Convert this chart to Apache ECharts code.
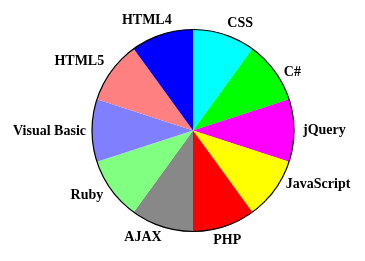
<!DOCTYPE html>
<html><head><meta charset="utf-8">
<script src="https://cdn.jsdelivr.net/npm/echarts@6/dist/echarts.min.js"></script>
<style>html,body{margin:0;padding:0;background:#fff}#c{width:365px;height:261px}</style>
</head><body><div id="c"></div>
<script>
const categories = ['CSS','C#','jQuery','JavaScript','PHP','AJAX','Ruby','Visual Basic','HTML5','HTML4'];
const values = [10,10,10,10,10,10,10,10,10,10];
const colors = ['#00FFFF','#00FF00','#FF00FF','#FFFF00','#FF0000','#888888','#80FF80','#8080FF','#FF8080','#0000FF'];
const labelNudge = [[0,-2],[1,7],[-1,0],[3,-11],[-14,4],[3,1],[0,0],[4,1],[1,-4],[13,-5]];

const chart = echarts.init(document.getElementById('c'), null, {renderer:'canvas'});
const data = categories.map((c,i)=>({name:c, value:values[i], itemStyle:{color:colors[i]}}));
chart.setOption({
  animation:false,
  backgroundColor:'#fff',
  series:[
    {
      type:'pie', center:[193,130.5], radius:101, startAngle:90, clockwise:true,
      avoidLabelOverlap:false, silent:true,
      data:data,
      itemStyle:{borderWidth:0},
      label:{show:true, position:'outside', distanceToLabelLine:0,
        fontFamily:'Liberation Serif', fontWeight:'bold', fontSize:14, color:'#000'},
      labelLine:{show:false, length:10, length2:0},
      labelLayout:function(p){ const n=labelNudge[p.dataIndex]; return {dx:n[0], dy:n[1]}; },
      emphasis:{disabled:true}
    },
    {
      type:'pie', center:[193,130.5], radius:101, silent:true, z:3,
      data:[{value:1, name:'outline'}],
      itemStyle:{color:'rgba(0,0,0,0)', borderColor:'#000', borderWidth:1.2},
      label:{show:false}, labelLine:{show:false},
      emphasis:{disabled:true}
    }
  ]
});
</script></body></html>
